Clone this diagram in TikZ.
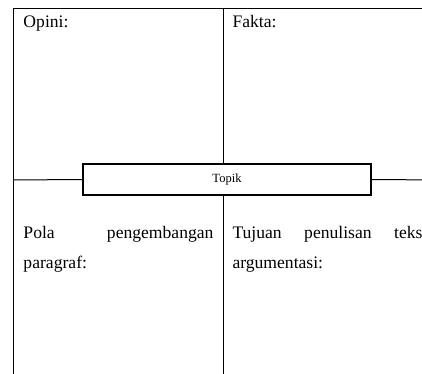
\documentclass[tikz,border=0pt]{standalone}
\usepackage{fontspec}
\setmainfont{Liberation Serif}
\usetikzlibrary{positioning}

\tikzset{every picture/.style={line width=0.75pt}}
\tikzset{
	label text/.style={inner sep=0pt, font=\fontsize{13.2}{22.5}\selectfont},
	cell text/.style={label text, text width=142.5pt, align=justify},
	topik box/.style={draw, line width=1pt, inner sep=0pt, minimum width=216pt, minimum height=23.25pt, font=\fontsize{9.4}{11}\selectfont}
}

\begin{document}
\begin{tikzpicture}[x=0.75pt,y=-0.75pt]
		\useasboundingbox (0,0) rectangle (422,374);
		\clip (0,0) rectangle (422,374);

		% frame of the four cells
		\coordinate (tl) at (13,9);
		\coordinate (tr) at (440,9);
		\coordinate (bl) at (13,390);
		\coordinate (tm) at (223.5,9);
		\coordinate (bm) at (223.5,390);
		\coordinate (ml) at (13,180);
		\coordinate (mr) at (440,180);

		\node[topik box] (topik) at (227,179.5) {Topik};

		\draw (bl) -- (tl) -- (tr);
		\draw (tm) -- (tm |- topik.north);
		\draw (bm) -- (bm |- topik.south);
		\draw (ml) -- (topik.west);
		\draw (topik.east) -- (mr);

		% texts in the cells
		\node[label text, anchor=base west] (opini) at (23,28) {Opini:};
		\node[label text, anchor=base west] (fakta) at (232,28) {Fakta:};
		\node[cell text, anchor=base west] (pola) at (23,239) {Pola\hfill pengembangan\\paragraf:};
		\node[cell text, anchor=base west] (tujuan) at (232,239) {Tujuan\hfill penulisan\hfill teks\\argumentasi:};
	\end{tikzpicture}
\end{document}
